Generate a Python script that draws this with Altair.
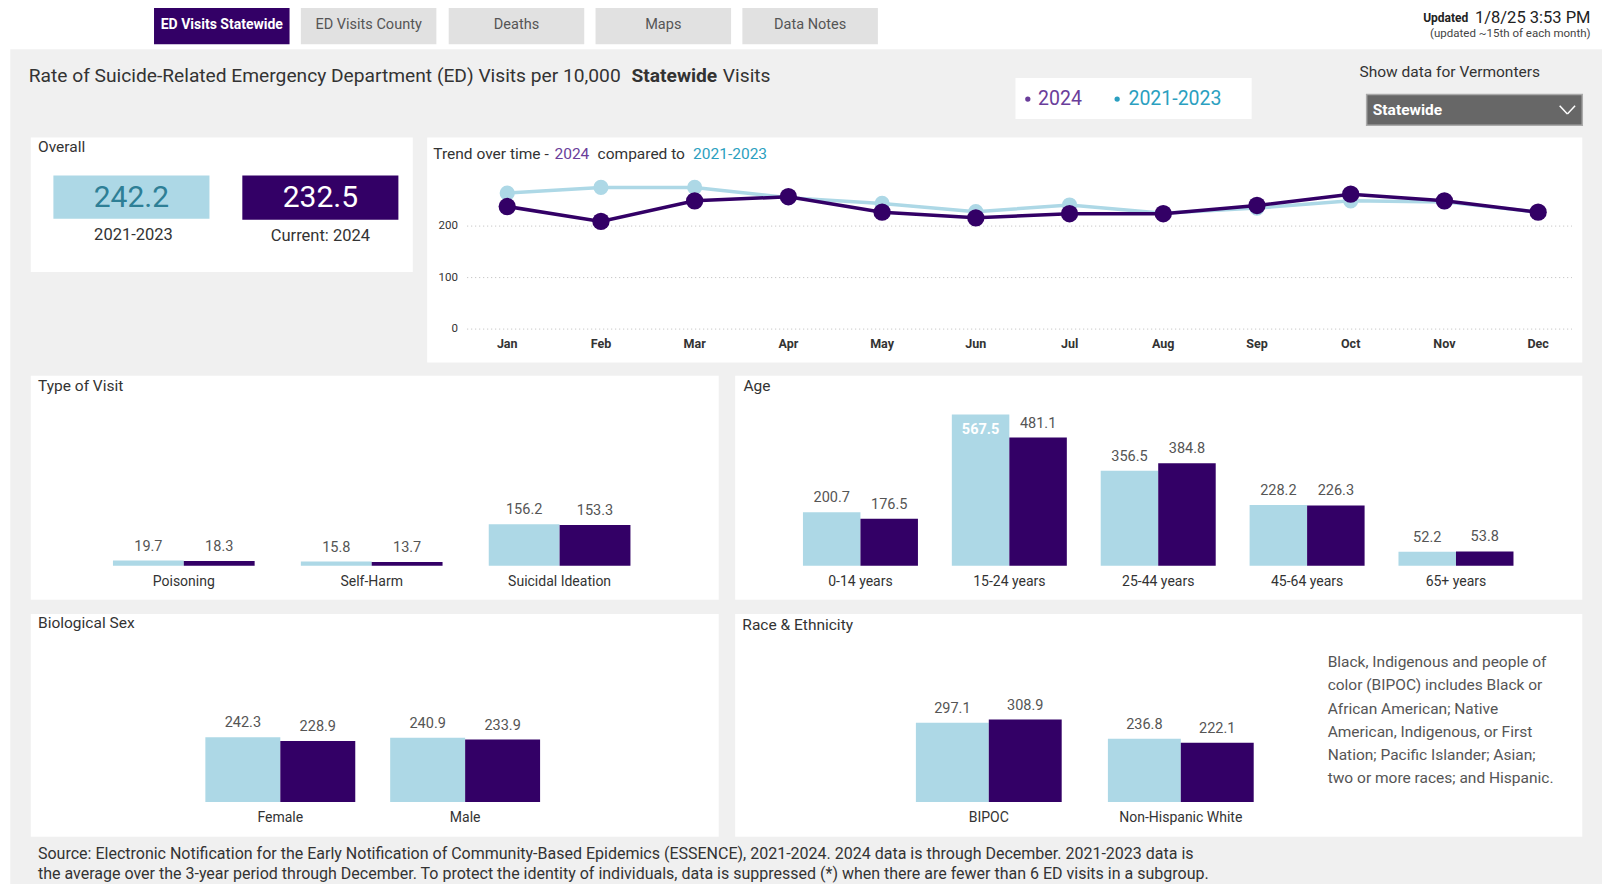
import altair as alt
import pandas as pd

# ---------------- data ----------------
months = ["Jan", "Feb", "Mar", "Apr", "May", "Jun", "Jul", "Aug", "Sep", "Oct", "Nov", "Dec"]
trend_2024 = [238, 209, 249, 257, 227, 216, 224, 224, 240, 262, 249, 227]
trend_base = [264, 275, 275, 255, 244, 228, 241, 225, 235, 249, 247, 227]

series = ["2021-2023", "2024"]
overall_vals = [242.2, 232.5]

visit_types = ["Poisoning", "Self-Harm", "Suicidal Ideation"]
visit_base = [19.7, 15.8, 156.2]
visit_2024 = [18.3, 13.7, 153.3]

age_groups = ["0-14 years", "15-24 years", "25-44 years", "45-64 years", "65+ years"]
age_base = [200.7, 567.5, 356.5, 228.2, 52.2]
age_2024 = [176.5, 481.1, 384.8, 226.3, 53.8]

sex_groups = ["Female", "Male"]
sex_base = [242.3, 240.9]
sex_2024 = [228.9, 233.9]

race_groups = ["BIPOC", "Non-Hispanic White"]
race_base = [297.1, 236.8]
race_2024 = [308.9, 222.1]

tabs = ["ED Visits Statewide", "ED Visits County", "Deaths", "Maps", "Data Notes"]

race_note = [
    "Black, Indigenous and people of",
    "color (BIPOC) includes Black or",
    "African American; Native",
    "American, Indigenous, or First",
    "Nation; Pacific Islander; Asian;",
    "two or more races; and Hispanic.",
]
footer = [
    "Source: Electronic Notification for the Early Notification of Community-Based Epidemics (ESSENCE), 2021-2024. 2024 data is through December. 2021-2023 data is",
    "the average over the 3-year period through December. To protect the identity of individuals, data is suppressed (*) when there are fewer than 6 ED visits in a subgroup.",
]

# ---------------- style ----------------
FONT = "Roboto"
LIGHT = "#add8e6"
DARK = "#330066"
PURPLE_TXT = "#6a3d9a"
TEAL_TXT = "#2b9fc0"
GRAY_BG = "#f0f0f0"
TXT = "#333333"

S = 1610 / 1568.0


def X(v):
    return v * S - 8


Y = X

EMPTY = alt.Data(values=[{}])


def rect(x0, y0, x1, y1, fill, stroke=None, sw=0):
    kw = dict(fill=fill)
    if stroke:
        kw.update(stroke=stroke, strokeWidth=sw)
    return alt.Chart(EMPTY).mark_rect(**kw).encode(
        x=alt.value(X(x0)), x2=alt.value(X(x1)), y=alt.value(Y(y0)), y2=alt.value(Y(y1))
    )


def txt(s, x, y, size=14, color=TXT, weight="normal", align="left", baseline="middle", font=FONT):
    return alt.Chart(EMPTY).mark_text(
        text=s, fontSize=size, color=color, fontWeight=weight, align=align,
        baseline=baseline, font=font,
    ).encode(x=alt.value(X(x)), y=alt.value(Y(y)))


def seg(x0, y0, x1, y1, color, w):
    return alt.Chart(EMPTY).mark_rule(color=color, strokeWidth=w).encode(
        x=alt.value(X(x0)), y=alt.value(Y(y0)), x2=alt.value(X(x1)), y2=alt.value(Y(y1))
    )


def dot(x, y, color, size):
    return alt.Chart(EMPTY).mark_circle(color=color, size=size, opacity=1).encode(
        x=alt.value(X(x)), y=alt.value(Y(y))
    )


layers = []

# page background panel
layers.append(rect(10, 48, 1561, 900, GRAY_BG))

# tabs
tab_x = [150, 293, 437, 580, 723]
for i, t in enumerate(tabs):
    active = i == 0
    layers.append(rect(tab_x[i], 5, tab_x[i] + 132, 43, DARK if active else "#e1e1e1"))
    layers.append(txt(t, tab_x[i] + 66, 24.5, size=14 if active else 14.5,
                      color="white" if active else "#555555",
                      weight="bold" if active else "normal", align="center"))

layers.append(txt("1/8/25 3:53 PM", 1549, 17.5, size=16.5, color="#222222", align="right"))
layers.append(txt("Updated", 1430, 17.5, size=12, color="#222222", align="right", weight="bold"))
layers.append(txt("(updated ~15th of each month)", 1549, 33.5, size=11.5, color="#444444", align="right"))

# title
layers.append(txt("Rate of Suicide-Related Emergency Department (ED) Visits per 10,000", 28, 74, size=19.2))
layers.append(txt("Statewide", 615, 74, size=19.2, weight="bold"))
layers.append(txt("Visits", 704, 74, size=19.2))

# legend box
layers.append(rect(989, 76, 1219, 116, "white"))
layers.append(dot(1001, 96.5, PURPLE_TXT, 28))
layers.append(txt("2024", 1011, 96.5, size=19.5, color=PURPLE_TXT))
layers.append(dot(1088, 96.5, TEAL_TXT, 28))
layers.append(txt("2021-2023", 1099, 96.5, size=19.5, color=TEAL_TXT))

# dropdown
layers.append(txt("Show data for Vermonters", 1324, 70, size=15.5, color="#333333"))
layers.append(rect(1331, 92, 1541, 122, "#676767", stroke="#aaaaaa", sw=1.5))
layers.append(txt("Statewide", 1337, 107.5, size=15.5, color="white", weight="bold"))
layers.append(seg(1519, 103, 1526.5, 111, "white", 1.5))
layers.append(seg(1526.5, 111, 1534, 103, "white", 1.5))

# white panels
layers.append(rect(30, 134, 402, 265, "white"))
layers.append(rect(416, 134, 1541, 353, "white"))
layers.append(rect(30, 366, 700, 584, "white"))
layers.append(rect(716, 366, 1541, 584, "white"))
layers.append(rect(30, 598, 700, 815, "white"))
layers.append(rect(716, 598, 1541, 815, "white"))

# panel titles
PT = 15.5
layers.append(txt("Overall", 37, 143, size=PT))
layers.append(txt("Trend over time -", 422, 150, size=PT))
layers.append(txt("2024", 540, 150, size=PT, color=PURPLE_TXT))
layers.append(txt("compared to", 582, 150, size=PT))
layers.append(txt("2021-2023", 675, 150, size=PT, color=TEAL_TXT))
layers.append(txt("Type of Visit", 37, 376, size=PT))
layers.append(txt("Age", 724, 376, size=PT))
layers.append(txt("Biological Sex", 37, 607, size=PT))
layers.append(txt("Race & Ethnicity", 723, 609, size=PT))

# overall KPI boxes
layers.append(rect(52, 171, 204, 213, LIGHT))
layers.append(rect(236, 171, 388, 214, DARK))
ov = pd.DataFrame({"series": series, "value": overall_vals})
ov_pos = {"2021-2023": (128, 193, "#2e7f96"), "2024": (312, 193, "white")}
for s_name, (cx, cy, col) in ov_pos.items():
    layers.append(
        alt.Chart(ov).transform_filter(alt.datum.series == s_name)
        .mark_text(fontSize=30, font=FONT, color=col, align="center", baseline="middle")
        .encode(text=alt.Text("value:Q", format=".1f"), x=alt.value(X(cx)), y=alt.value(Y(cy)))
    )
layers.append(txt("2021-2023", 130, 229, size=16.5, align="center"))
layers.append(txt("Current: 2024", 312, 230, size=16.5, align="center"))

# ---------------- trend chart ----------------
trend = pd.DataFrame({
    "month": months * 2,
    "series": ["2021-2023"] * 12 + ["2024"] * 12,
    "value": trend_base + trend_2024,
})
xs = alt.Scale(type="point", domain=months, range=[X(494), X(1498)], padding=0)
y0 = Y(320.5)
ys = alt.Scale(domain=[0, 300], range=[y0, y0 - 3 * 51.5])
color_scale = alt.Scale(domain=series, range=[LIGHT, DARK])

grid = pd.DataFrame({"tick": [0, 100, 200]})
t_grid = alt.Chart(grid).mark_rule(color="#bbbbbb", strokeDash=[1, 3], strokeWidth=1).encode(
    y=alt.Y("tick:Q", scale=ys, axis=None), x=alt.value(X(455)), x2=alt.value(X(1531))
)
t_ticks = alt.Chart(grid).mark_text(fontSize=11.5, font=FONT, color=TXT, align="right", baseline="middle").encode(
    y=alt.Y("tick:Q", scale=ys, axis=None), text="tick:Q", x=alt.value(X(446))
)
t_months = alt.Chart(pd.DataFrame({"month": months})).mark_text(
    fontSize=12.5, font=FONT, color=TXT, align="center", baseline="middle", fontWeight="bold"
).encode(x=alt.X("month:N", scale=xs, axis=None), text="month:N", y=alt.value(Y(335)))


def trend_series(name, size, width):
    base = alt.Chart(trend).transform_filter(alt.datum.series == name)
    enc = dict(
        x=alt.X("month:N", scale=xs, axis=None, sort=months),
        y=alt.Y("value:Q", scale=ys, axis=None),
        color=alt.Color("series:N", scale=color_scale, legend=None),
    )
    line = base.mark_line(strokeWidth=width).encode(**enc)
    pts = base.mark_circle(size=size, opacity=1).encode(**enc)
    return [line, pts]


trend_layer = alt.layer(
    t_grid, t_ticks, t_months,
    *trend_series("2021-2023", 230, 3.5),
    *trend_series("2024", 300, 3.5),
)
layers.append(trend_layer)


# ---------------- grouped bar charts ----------------
def bar_panel(cats, base_vals, cur_vals, centers, group_w, baseline_y):
    step = (centers[-1] - centers[0]) / (len(centers) - 1)
    pi = (step - group_w) / step
    df = pd.DataFrame({
        "cat": cats * 2,
        "series": ["2021-2023"] * len(cats) + ["2024"] * len(cats),
        "value": base_vals + cur_vals,
    })
    bx = alt.Scale(domain=cats, range=[X(centers[0] - step / 2), X(centers[-1] + step / 2)],
                   paddingInner=pi, paddingOuter=pi / 2)
    by = alt.Scale(domain=[0, 600], range=[Y(baseline_y), Y(baseline_y) - 600 * 0.2665])
    xo = alt.Scale(domain=series, paddingInner=0, paddingOuter=0)
    enc = dict(
        x=alt.X("cat:N", scale=bx, axis=None, sort=cats),
        xOffset=alt.XOffset("series:N", scale=xo, sort=series),
        y=alt.Y("value:Q", scale=by, axis=None),
    )
    bars = alt.Chart(df).mark_bar().encode(
        color=alt.Color("series:N", scale=color_scale, legend=None), **enc
    )
    lab_out = alt.Chart(df).transform_filter(alt.datum.value < 500).mark_text(
        fontSize=14.5, font=FONT, color="#555555", align="center", baseline="bottom", dy=-7
    ).encode(text=alt.Text("value:Q", format=".1f"), **enc)
    lab_in = alt.Chart(df).transform_filter(alt.datum.value >= 500).mark_text(
        fontSize=14.5, font=FONT, color="white", fontWeight="bold", align="center", baseline="top", dy=8
    ).encode(text=alt.Text("value:Q", format=".1f"), **enc)
    cat_lab = alt.Chart(pd.DataFrame({"cat": cats})).mark_text(
        fontSize=14, font=FONT, color=TXT, align="center", baseline="middle"
    ).encode(x=alt.X("cat:N", scale=bx, axis=None, sort=cats), text="cat:N",
             y=alt.value(Y(baseline_y + 15.5)))
    return alt.layer(bars, lab_out, lab_in, cat_lab)


layers.append(bar_panel(visit_types, visit_base, visit_2024, [179, 361, 545], 138, 551))
layers.append(bar_panel(age_groups, age_base, age_2024, [838, 983, 1128, 1273, 1418], 112, 551))
layers.append(bar_panel(sex_groups, sex_base, sex_2024, [273, 453], 146, 781))
layers.append(bar_panel(race_groups, race_base, race_2024, [963, 1150], 142, 781))

# race note
for i, line in enumerate(race_note):
    layers.append(txt(line, 1293, 645 + i * 22.6, size=15.5, color="#555555"))

# footer
for i, line in enumerate(footer):
    layers.append(txt(line, 37, 832 + i * 19, size=16, color=TXT))

chart = alt.layer(*layers).resolve_scale(
    x="independent", y="independent", xOffset="independent", color="shared"
).properties(
    width=1594, height=876, padding=0, autosize=alt.AutoSizeParams(type="none"),
    background="white",
).configure_view(stroke=None)

chart.save("out.html", embed_options={"renderer": "svg", "actions": False})
